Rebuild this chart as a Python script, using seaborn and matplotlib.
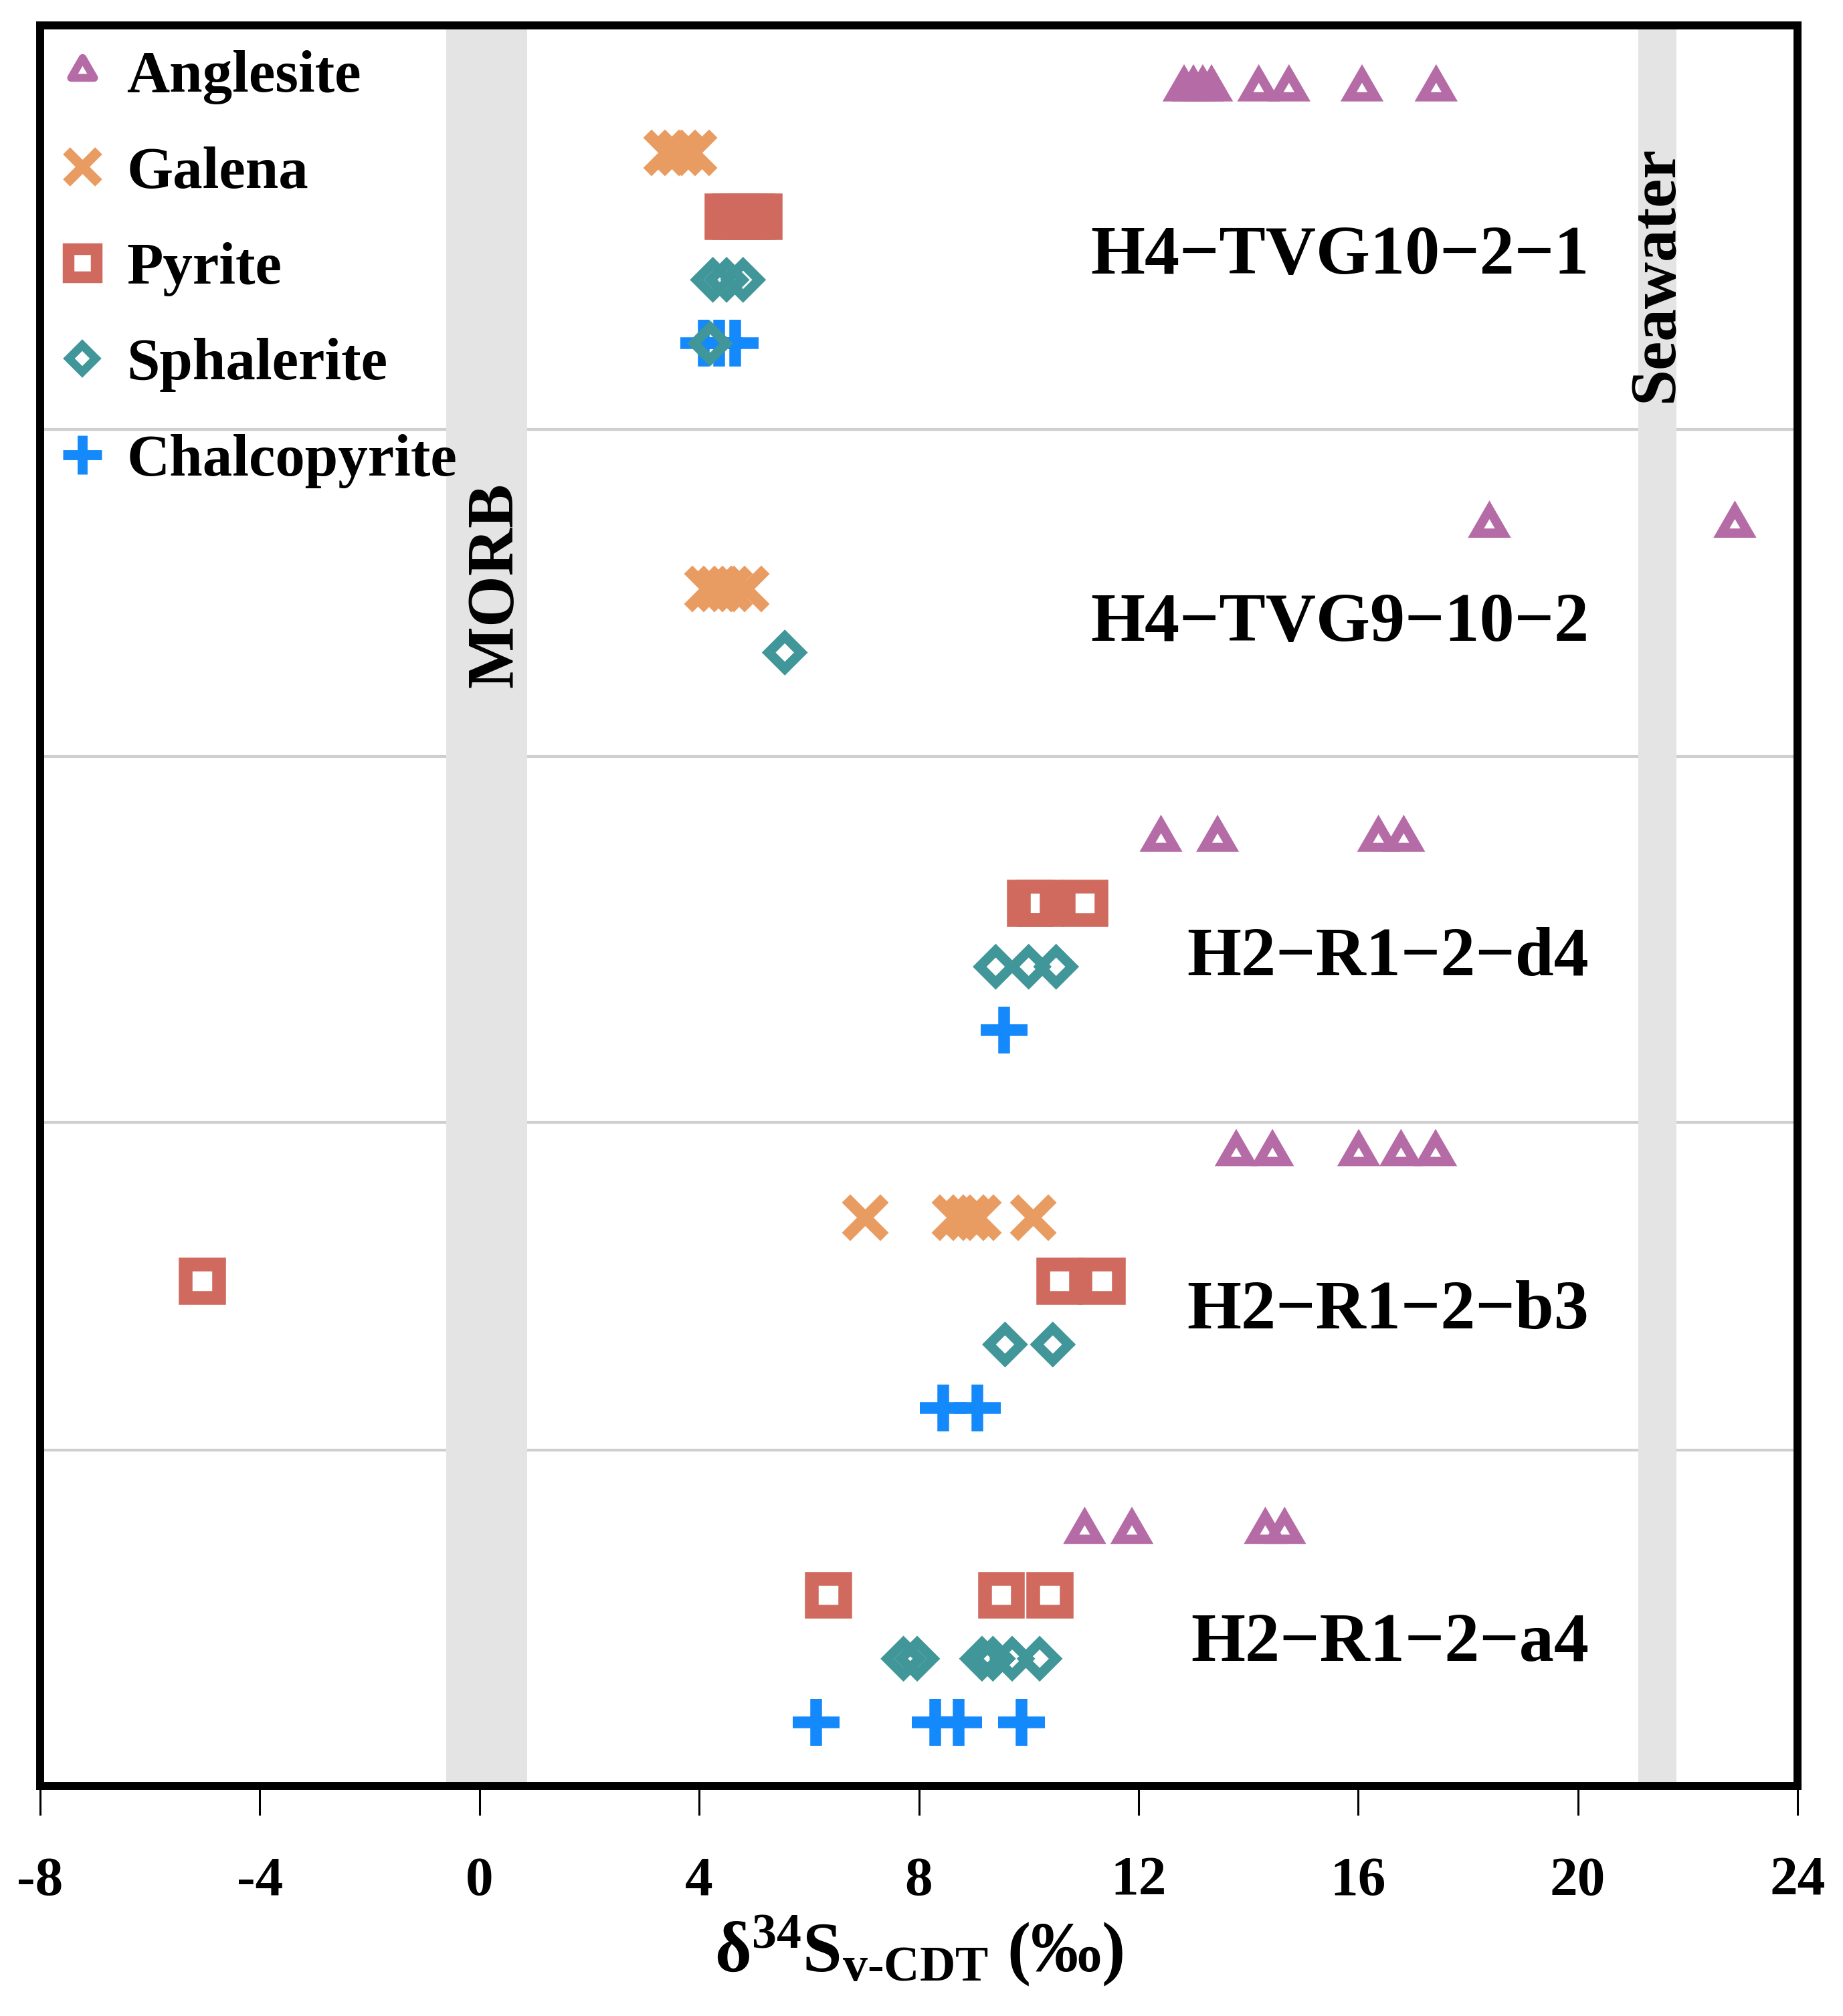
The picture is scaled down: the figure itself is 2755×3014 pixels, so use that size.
import matplotlib
matplotlib.use('Agg')
import matplotlib.pyplot as plt
import matplotlib.path as mpath
from matplotlib.lines import Line2D
import pandas as pd
import seaborn as sns

# d34S values (permil) per sample, one list per mineral
samples = ['H4\u2212TVG10\u22122\u22121', 'H4\u2212TVG9\u221210\u22122',
           'H2\u2212R1\u22122\u2212d4', 'H2\u2212R1\u22122\u2212b3', 'H2\u2212R1\u22122\u2212a4']
anglesite = [[12.83, 13.0, 13.17, 13.33, 14.19, 14.74, 16.07, 17.42],
             [18.39, 22.86],
             [12.41, 13.44, 16.37, 16.83],
             [13.78, 14.44, 16.01, 16.78, 17.41],
             [11.02, 11.88, 14.31, 14.66]]
galena = [[3.4, 3.65, 3.9],
          [4.15, 4.35, 4.55, 4.85],
          [],
          [7.02, 8.65, 8.9, 9.08, 10.08],
          []]
pyrite = [[4.52, 4.65, 4.8, 4.95, 5.08],
          [],
          [10.02, 10.21, 11.02],
          [-5.05, 10.56, 11.33],
          [6.35, 9.5, 10.38]]
sphalerite = [[4.25, 4.5, 4.8],
              [5.56],
              [9.4, 10.0, 10.5],
              [9.57, 10.44],
              [7.72, 7.97, 9.15, 9.35, 9.7, 10.2]]
chalcopyrite = [[4.08, 4.37, 4.66],
                [],
                [9.55],
                [8.44, 9.06],
                [6.13, 8.3, 8.73, 9.87]]
# one sphalerite point sits on the chalcopyrite row of the first sample
sphalerite_on_cpy_row = [4.2]

minerals = ['Anglesite', 'Galena', 'Pyrite', 'Sphalerite', 'Chalcopyrite']
values = [anglesite, galena, pyrite, sphalerite, chalcopyrite]
colors = ['#b56ca6', '#e99c62', '#d06a5e', '#409698', '#1489fb']

morb_range = (-0.6, 0.87)
seawater_range = (21.1, 21.79)

# layout of the rows (y is a row index, top to bottom)
group_top = [1.0, 7.86, 12.8, 17.74, 23.68]
separators = [6.35, 11.5, 17.25, 22.4]
label_rows = [3.64, 9.41, 14.67, 20.22, 25.45]
y_max = 27.68

tri = mpath.Path([(0, 1), (-0.866, -0.5), (0.866, -0.5), (0, 1)], closed=True)
styles = {
    'Anglesite': dict(marker=tri, size=33.5, lw=10.0, filled=True),
    'Galena': dict(marker='x', size=41.4, lw=12.7, filled=False),
    'Pyrite': dict(marker='s', size=35.6, lw=14.8, filled=True),
    'Sphalerite': dict(marker='D', size=24.5, lw=10.5, filled=True),
    'Chalcopyrite': dict(marker='+', size=49.7, lw=12.6, filled=False),
}

records = []
cpy_row_first = None
for i, name in enumerate(samples):
    row = group_top[i]
    for mineral, vals in zip(minerals, values):
        if not vals[i]:
            continue
        for v in vals[i]:
            records.append({'sample': name, 'mineral': mineral, 'd34S': v, 'row': row})
        if i == 0 and mineral == 'Chalcopyrite':
            cpy_row_first = row
        row += 1
df = pd.DataFrame(records)
df_extra = pd.DataFrame({'d34S': sphalerite_on_cpy_row, 'row': cpy_row_first})

sns.set_theme(style='white')
plt.rcParams['font.family'] = ['Liberation Serif', 'DejaVu Serif']
plt.rcParams['font.weight'] = 'bold'
plt.rcParams['text.color'] = 'black'
plt.rcParams['axes.labelcolor'] = 'black'
plt.rcParams['xtick.color'] = 'black'
plt.rcParams['axes.unicode_minus'] = False
plt.rcParams['mathtext.fontset'] = 'custom'
plt.rcParams['mathtext.rm'] = 'Liberation Serif:bold'
plt.rcParams['mathtext.it'] = 'Liberation Serif:bold'
plt.rcParams['mathtext.bf'] = 'Liberation Serif:bold'
plt.rcParams['mathtext.default'] = 'rm'

fig = plt.figure(figsize=(27.55, 30.14), dpi=100)
ax = fig.add_axes([60 / 2755, 1 - 2670 / 3014, 2627 / 2755, 2632 / 3014])

for y in separators:
    ax.axhline(y, color='#cfcfcf', lw=3, zorder=1)
ax.axvspan(*morb_range, color='#e4e4e4', lw=0, zorder=1.5)
ax.axvspan(*seawater_range, color='#e4e4e4', lw=0, zorder=1.5)

for k, (mineral, col) in enumerate(zip(minerals, colors)):
    st = styles[mineral]
    sub = df[df.mineral == mineral]
    if st['filled']:
        sns.scatterplot(data=sub, x='d34S', y='row', marker=st['marker'], s=st['size'] ** 2,
                        facecolor='none', edgecolor=col, linewidth=st['lw'],
                        joinstyle='miter', zorder=3 + k, ax=ax, legend=False)
    else:
        sns.scatterplot(data=sub, x='d34S', y='row', marker=st['marker'], s=st['size'] ** 2,
                        color=col, linewidth=st['lw'], zorder=3 + k, ax=ax, legend=False)

st = styles['Sphalerite']
sns.scatterplot(data=df_extra, x='d34S', y='row', marker=st['marker'], s=st['size'] ** 2,
                facecolor='none', edgecolor=colors[3], linewidth=st['lw'],
                joinstyle='miter', zorder=9, ax=ax, legend=False)

for name, yr in zip(samples, label_rows):
    ax.text(20.2, yr, name, ha='right', va='center', fontsize=75, fontweight='bold',
            color='black', zorder=10)

ax.text(sum(morb_range) / 2 + 0.17, 8.8, 'MORB', rotation=90, ha='center', va='center',
        fontsize=71, fontweight='bold', color='black', zorder=10)
ax.text(sum(seawater_range) / 2, 3.9, 'Seawater', rotation=90, ha='center', va='center',
        fontsize=70, fontweight='bold', color='black', zorder=10)

handles = []
for mineral, col in zip(minerals, colors):
    st = styles[mineral]
    if st['filled']:
        h = Line2D([], [], ls='none', marker=st['marker'], markersize=st['size'] * 0.85,
                   mfc='none', mec=col, mew=st['lw'] * 0.85)
    else:
        h = Line2D([], [], ls='none', marker=st['marker'], markersize=st['size'] * 0.85,
                   color=col, mew=st['lw'] * 0.85)
    handles.append(h)
leg = ax.legend(handles, minerals, loc='upper left', bbox_to_anchor=(0.0107, 0.986),
                borderaxespad=0, borderpad=0, handlelength=0.78, handletextpad=0.36,
                labelspacing=0.70, frameon=False, prop={'size': 64, 'weight': 'bold'})
for t in leg.get_texts():
    t.set_color('black')

ax.set_xlim(-8, 24)
ax.set_ylim(y_max, 0)
ax.set_xticks(range(-8, 25, 4))
ax.set_yticks([])
ax.set_ylabel('')
ax.set_xlabel(r'δ$^{34}$S$_{\text{v-CDT}}$ (‰)', fontsize=76, fontweight='bold',
              labelpad=8, color='black')
ax.tick_params(axis='x', direction='out', length=32, width=2.2, pad=44, labelsize=60,
               colors='black', bottom=True)
for lab in ax.get_xticklabels():
    lab.set_fontweight('bold')
for sp in ax.spines.values():
    sp.set_visible(True)
    sp.set_color('black')
    sp.set_linewidth(8.6)
ax.set_facecolor('white')

fig.savefig('out.png', dpi=100, facecolor='white')
